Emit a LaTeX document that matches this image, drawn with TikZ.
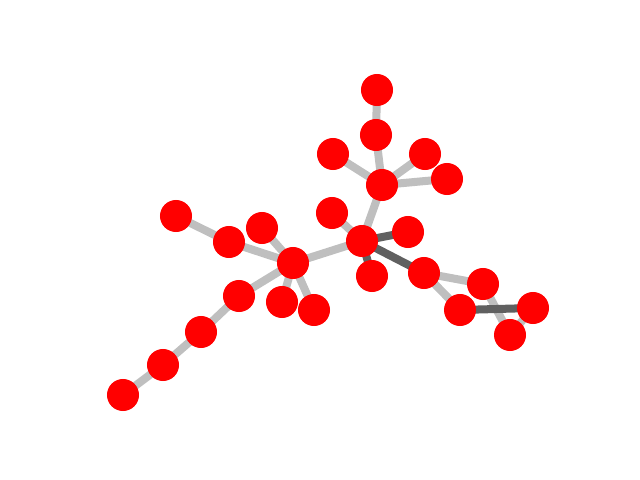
\documentclass[tikz,border=0pt]{standalone}
\usetikzlibrary{calc}

\begin{document}
\begin{tikzpicture}[x=0.025cm, y=-0.025cm, line cap=round, line join=round]
    \tikzset{
        light/.style={draw={rgb,255:red,191;green,191;blue,191}, line width=5.7pt},
        dark/.style={draw={rgb,255:red,96;green,96;blue,96}, line width=5.7pt},
        vertex/.style={circle, fill=red, draw=none, minimum size=0.8cm, inner sep=0pt}
    }

    % Frame of the figure
    \useasboundingbox (0,0) rectangle (640,480);

    % Vertex positions
    \coordinate (V1) at (377,90);
    \coordinate (V2) at (376,135);
    \coordinate (V3) at (333,154);
    \coordinate (V4) at (425,154);
    \coordinate (V5) at (447,179);
    \coordinate (V6) at (382,185);
    \coordinate (V7) at (176,216);
    \coordinate (V8) at (332,213);
    \coordinate (V9) at (262,228);
    \coordinate (V10) at (229,242);
    \coordinate (V11) at (362,241);
    \coordinate (V12) at (408,232);
    \coordinate (V13) at (293,263);
    \coordinate (V14) at (372,276);
    \coordinate (V15) at (424,273);
    \coordinate (V16) at (483,284);
    \coordinate (V17) at (239,296);
    \coordinate (V18) at (282,302);
    \coordinate (V19) at (314,310);
    \coordinate (V20) at (460,310);
    \coordinate (V21) at (533,308);
    \coordinate (V22) at (510,335);
    \coordinate (V23) at (201,332);
    \coordinate (V24) at (163,365);
    \coordinate (V25) at (123,395);

    % Light edges
    \foreach \a/\b in {1/2, 2/6, 3/6, 4/6, 5/6, 6/11, 8/11, 11/13, 9/13, 10/13, 7/10,
                       13/17, 17/23, 23/24, 24/25, 13/18, 13/19, 15/16, 15/20, 16/22, 21/22} {
        \draw[light] (V\a) -- (V\b);
    }

    % Dark edges
    \foreach \a/\b in {11/12, 11/14, 11/15, 20/21} {
        \draw[dark] (V\a) -- (V\b);
    }

    % Vertices
    \foreach \i in {1,...,25} {
        \node[vertex] (N\i) at (V\i) {};
    }
\end{tikzpicture}
\end{document}
